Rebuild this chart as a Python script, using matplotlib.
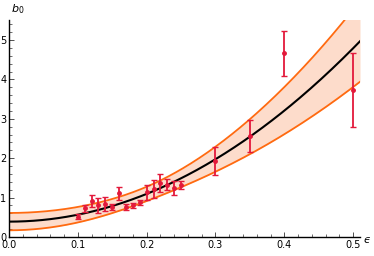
import numpy as np
import matplotlib
matplotlib.use("Agg")
import matplotlib.pyplot as plt
from matplotlib.ticker import MultipleLocator

# datos medidos (puntos con barras de error)
eps = [0.10, 0.11, 0.12, 0.13, 0.14, 0.15, 0.16, 0.17, 0.18, 0.19,
       0.20, 0.21, 0.22, 0.23, 0.24, 0.25, 0.30, 0.35, 0.40, 0.50]
b0 = [0.52, 0.73, 0.91, 0.80, 0.84, 0.76, 1.11, 0.77, 0.80, 0.88,
      1.13, 1.22, 1.38, 1.33, 1.24, 1.32, 1.93, 2.56, 4.66, 3.73]
b0_err = [0.06, 0.09, 0.16, 0.18, 0.18, 0.08, 0.16, 0.08, 0.07, 0.07,
          0.19, 0.23, 0.23, 0.14, 0.17, 0.11, 0.36, 0.41, 0.57, 0.94]

# ajuste b0 = a + c*eps^2 (parámetros)
fit_a, fit_c = 0.39, 17.6
sig_a, sig_c, rho = 0.22, 4.4, -0.6

red = "#e3193b"
orange = "#ff6a10"
fill = "#fddccb"

fig = plt.figure(figsize=(3.74, 2.56), dpi=100)
ax = fig.add_axes([9 / 374, 19 / 256, 351 / 374, 216.7 / 256])

xs = np.linspace(0, 0.51, 300)
mid = fit_a + fit_c * xs**2
var = sig_a**2 + (sig_c * xs**2) ** 2 + 2 * rho * sig_a * sig_c * xs**2
half = np.sqrt(var)

ax.fill_between(xs, mid - half, mid + half, color=fill, lw=0)
ax.plot(xs, mid + half, color=orange, lw=1.3)
ax.plot(xs, mid - half, color=orange, lw=1.3)
ax.plot(xs, mid, color="black", lw=1.5)

ax.errorbar(eps, b0, yerr=b0_err, fmt="o", ms=2.5, color=red, ecolor=red,
            elinewidth=1.3, capsize=2.5, capthick=1.0, zorder=5)

ax.set_xlim(0, 0.51)
ax.set_ylim(0, 5.5)
for s in ("top", "right"):
    ax.spines[s].set_visible(False)
for s in ("left", "bottom"):
    ax.spines[s].set_linewidth(1.0)
ax.xaxis.set_major_locator(MultipleLocator(0.1))
ax.xaxis.set_minor_locator(MultipleLocator(0.02))
ax.yaxis.set_major_locator(MultipleLocator(1))
ax.yaxis.set_minor_locator(MultipleLocator(0.2))
ax.set_xticklabels([f"{v:.1f}" for v in ax.get_xticks()])
ax.tick_params(which="both", direction="in", labelsize=7, colors="#333333",
               labelcolor="black", pad=2)
ax.tick_params(which="major", length=3.5, width=0.6)
ax.tick_params(which="minor", length=2, width=0.5)

plt.rcParams["mathtext.fontset"] = "dejavusans"
fig.text(18 / 374, 1 - 9 / 256, r"$b_\mathrm{0}$", fontsize=8, ha="center", va="center")
fig.text(367 / 374, 1 - 240 / 256, "ϵ", fontsize=8, style="italic", ha="center", va="center")

fig.savefig("out.png", dpi=100)
